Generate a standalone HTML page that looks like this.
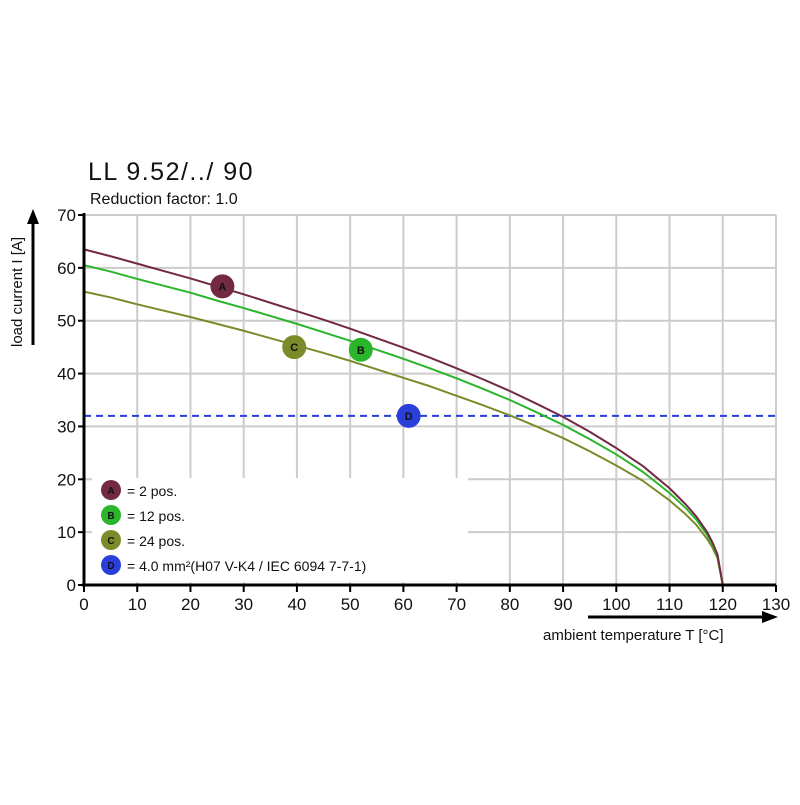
<!DOCTYPE html>
<html><head><meta charset="utf-8"><style>
body{margin:0;background:#fff}
svg text{font-family:"Liberation Sans",sans-serif}
</style></head><body>
<svg id="c" width="800" height="800" xmlns="http://www.w3.org/2000/svg">
<text x="88" y="180" font-size="25" fill="#111" letter-spacing="1.5">LL 9.52/../ 90</text>
<text x="90" y="204" font-size="16" fill="#111">Reduction factor: 1.0</text>
<g id="grid"></g>
<rect x="92" y="478" width="376" height="104" fill="#fff"/>
<g id="curves"></g>
<line x1="84" y1="213" x2="84" y2="586" stroke="#000" stroke-width="3"/>
<line x1="82" y1="585" x2="776" y2="585" stroke="#000" stroke-width="3"/>
<g id="ticks"></g>
<line x1="33" y1="345" x2="33" y2="222" stroke="#000" stroke-width="3"/>
<polygon points="27,224 39,224 33,209" fill="#000"/>
<text transform="translate(22,347) rotate(-90)" font-size="15" fill="#111">load current I [A]</text>
<line x1="588" y1="617" x2="764" y2="617" stroke="#000" stroke-width="3"/>
<polygon points="762,611 762,623 778,617" fill="#000"/>
<text x="543" y="640" font-size="15" fill="#111">ambient temperature T [°C]</text>
<g id="legend"></g>
</svg>
<script>
const temps=[0,5,10,15,20,25,30,35,40,45,50,55,60,65,70,75,80,85,90,95,100,105,110,113,115,117,118,119,120];
const seriesA=[63.5,62.2,60.8,59.4,58.0,56.5,55.0,53.4,51.8,50.2,48.5,46.7,44.9,43.0,41.0,38.9,36.7,34.3,31.8,29.0,25.9,22.5,18.3,15.3,13.0,10.1,8.2,5.8,0];
const seriesB=[60.5,59.3,57.9,56.6,55.3,53.8,52.4,50.9,49.4,47.8,46.2,44.5,42.8,41.0,39.1,37.1,35.0,32.7,30.3,27.6,24.7,21.4,17.4,14.6,12.4,9.6,7.8,5.5,0];
const seriesC=[55.5,54.4,53.1,51.9,50.7,49.4,48.1,46.7,45.3,43.9,42.4,40.8,39.2,37.6,35.8,34.0,32.1,30.0,27.8,25.3,22.6,19.7,16.0,13.4,11.4,8.8,7.2,5.1,0];
const limitD=32;
const xTicks=[0,10,20,30,40,50,60,70,80,90,100,110,120,130];
const yTicks=[0,10,20,30,40,50,60,70];
const markers=[["A",26,56.5],["B",52,44.5],["C",39.5,45],["D",61,32]];
const legendLabels=["= 2 pos.","= 12 pos.","= 24 pos.","= 4.0 mm²(H07 V-K4 / IEC 6094 7-7-1)"];
const colors={A:"#722a42",B:"#2ab52a",C:"#7a8c2a",D:"#2a3fd9"};
const X=v=>84+v*692/130, Y=v=>585-v*370/70;
const NS="http://www.w3.org/2000/svg";
function mk(p,t,a){const e=document.createElementNS(NS,t);for(const k in a)e.setAttribute(k,a[k]);p.appendChild(e);return e;}
const g=document.getElementById('grid'),tk=document.getElementById('ticks'),cv=document.getElementById('curves'),lg=document.getElementById('legend');
xTicks.forEach(t=>{if(t>0){const l=mk(g,'line',{x1:X(t),y1:Y(70),x2:X(t),y2:585,stroke:'#ccc','stroke-width':2});

}
mk(tk,'line',{x1:X(t),y1:585,x2:X(t),y2:592,stroke:'#000','stroke-width':2});
const s=mk(tk,'text',{x:X(t),y:610,'font-size':17,'text-anchor':'middle',fill:'#111'});s.textContent=t;

});
yTicks.forEach(t=>{if(t>0){const l=mk(g,'line',{x1:84,y1:Y(t),x2:776,y2:Y(t),stroke:'#ccc','stroke-width':2});

}
mk(tk,'line',{x1:78,y1:Y(t),x2:84,y2:Y(t),stroke:'#000','stroke-width':2});
const s=mk(tk,'text',{x:76,y:Y(t)+6,'font-size':17,'text-anchor':'end',fill:'#111'});s.textContent=t;

});
const dl=mk(cv,'line',{x1:84,y1:Y(limitD),x2:776,y2:Y(limitD),stroke:colors.D,'stroke-width':2,'stroke-dasharray':'7,5'});


[["C",seriesC],["B",seriesB],["A",seriesA]].forEach(([k,s])=>{
const p=mk(cv,'polyline',{points:temps.map((t,i)=>X(t)+','+Y(s[i])).join(' '),fill:'none',stroke:colors[k],'stroke-width':2,'stroke-linejoin':'round'});

});
markers.forEach(([k,t,v])=>{const c=mk(cv,'circle',{cx:X(t),cy:Y(v),r:12,fill:colors[k]});


const s=mk(cv,'text',{x:X(t),y:Y(v)+4,'font-size':11,'font-weight':'bold','text-anchor':'middle',fill:'#111'});s.textContent=k;});
["A","B","C","D"].forEach((k,i)=>{const y=490+i*25;
const c=mk(lg,'circle',{cx:111,cy:y,r:10,fill:colors[k]});


const s=mk(lg,'text',{x:111,y:y+4,'font-size':10,'font-weight':'bold','text-anchor':'middle',fill:'#111'});s.textContent=k;
const t=mk(lg,'text',{x:127,y:y+6,'font-size':14,fill:'#111'});t.textContent=legendLabels[i];

});
</script>
</body></html>
